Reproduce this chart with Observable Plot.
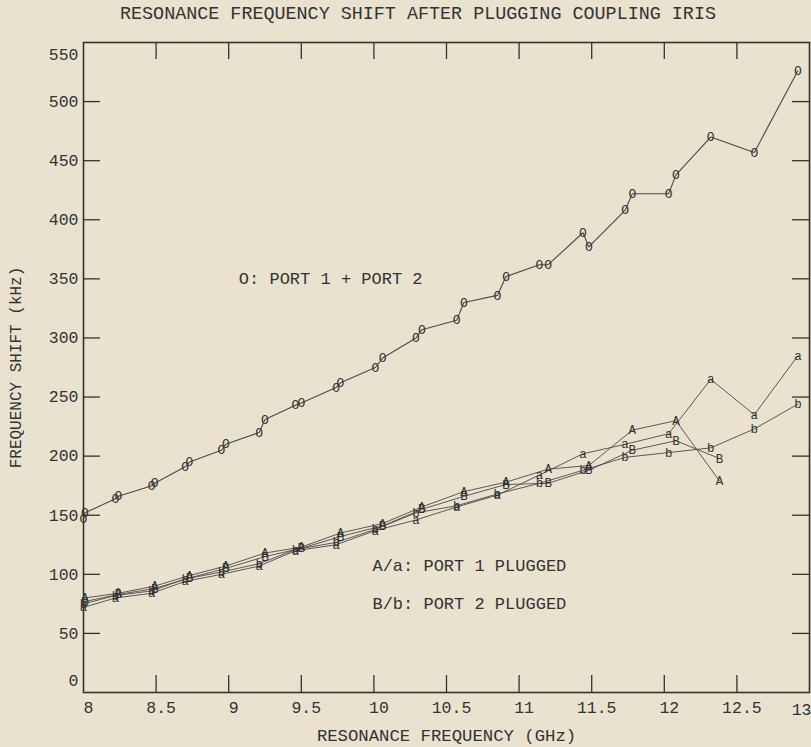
<!DOCTYPE html>
<html><head><meta charset="utf-8">
<script src="https://cdn.jsdelivr.net/npm/d3@7"></script>
<script src="https://cdn.jsdelivr.net/npm/@observablehq/plot@0.6"></script>
<style>
html,body{margin:0;padding:0;background:#e9e2cf;}
#title{height:30px;font-family:"Liberation Mono",monospace;font-size:18.4px;color:#333;position:relative;}
#title span{position:absolute;left:120px;top:4px;white-space:pre;}
</style></head><body>
<div id="title"><span>RESONANCE FREQUENCY SHIFT AFTER PLUGGING COUPLING IRIS</span></div>
<div id="chart"></div>
<script>
// Resonance frequencies (GHz): lower and upper member of each mode pair
const xLower = [8.00, 8.22, 8.47, 8.70, 8.95, 9.21, 9.46, 9.74, 10.01, 10.29, 10.57, 10.85, 11.14, 11.44, 11.73, 12.03, 12.32, 12.62, 12.92];
const xUpper = [8.01, 8.24, 8.49, 8.73, 8.98, 9.25, 9.50, 9.77, 10.06, 10.33, 10.62, 10.91, 11.20, 11.48, 11.78, 12.08, 12.38];
// O: port 1 + port 2 (kHz)
const oLower = [147, 164, 175, 191, 205, 220, 243, 258, 275, 300, 315, 336, 362, 389, 408, 422, 470, 457, 526];
const oUpper = [152, 166, 177, 195, 210, 231, 245, 262, 283, 307, 330, 352, 362, 377, 422, 438];
// a / b (lower member), A / B (upper member)
const aLower = [72, 80, 84, 94, 100, 107, 120, 125, 137, 146, 157, 167, 184, 202, 210, 219, 265, 235, 285];
const bLower = [75, 82, 86, 96, 102, 109, 121, 127, 138, 152, 158, 168, 177, 188, 199, 203, 207, 223, 244];
const AUpper = [80, 84, 90, 99, 107, 118, 123, 135, 143, 157, 170, 178, 189, 192, 222, 230, 179];
const BUpper = [77, 83, 88, 97, 105, 115, 122, 132, 141, 155, 166, 176, 177, 188, 205, 213, 198];
// Axis ticks
const xTickLabels = [8, 8.5, 9, 9.5, 10, 10.5, 11, 11.5, 12, 12.5];
const xEndLabel = [13];
const xInnerTicks = [8.5, 9, 9.5, 10, 10.5, 11, 11.5, 12, 12.5];
const yTickLabels = [50, 100, 150, 200, 250, 300, 350, 400, 450, 500];
const yBottomLabel = [0];
const yTopLabel = [550];
const yInnerTicks = [50, 100, 150, 200, 250, 300, 350, 400, 450, 500];
// Texts
const xTitle = "RESONANCE FREQUENCY (GHz)";
const yTitle = "FREQUENCY SHIFT (kHz)";
const noteText = ["O: PORT 1 + PORT 2", "A/a: PORT 1 PLUGGED", "B/b: PORT 2 PLUGGED"];
const noteX = [9.07, 9.99, 9.99];
const noteY = [350, 107, 75];

function series(xs, ys, sym) {
  return ys.map((y, i) => ({x: xs[i], y, sym}));
}
const oData = [...series(xLower, oLower, "O"), ...series(xUpper, oUpper, "O")].sort((p, q) => p.x - q.x);
const aData = series(xLower, aLower, "a");
const bData = series(xLower, bLower, "b");
const AData = series(xUpper, AUpper, "A");
const BData = series(xUpper, BUpper, "B");
const notes = noteText.map((t, i) => ({t, x: noteX[i], y: noteY[i]}));

const W = 811, H = 717, mT = 12, mB = 55, mL = 83, mR = 2;
const innerW = W - mL - mR, innerH = H - mT - mB, tick = 17;
const ink = "#333";
const lineInk = "#4a4a4a";

const lowerSets = [aData, bData, AData, BData];

const chart = Plot.plot({
  width: W, height: H,
  marginTop: mT, marginBottom: mB, marginLeft: mL, marginRight: mR,
  x: {domain: [8, 13], label: null},
  y: {domain: [0, 550], label: null},
  style: {fontFamily: "Liberation Mono, monospace", fontSize: "16.5px", color: ink, background: "transparent", overflow: "visible"},
  marks: [
    Plot.tickX(xInnerTicks, {x: d => d, insetTop: innerH - tick, stroke: ink, strokeWidth: 1.3}),
    Plot.tickX(xInnerTicks, {x: d => d, insetBottom: innerH - tick, stroke: ink, strokeWidth: 1.3}),
    Plot.tickY(yInnerTicks, {y: d => d, insetRight: innerW - tick, stroke: ink, strokeWidth: 1.3}),
    Plot.tickY(yInnerTicks, {y: d => d, insetLeft: innerW - tick, stroke: ink, strokeWidth: 1.3}),
    Plot.frame({stroke: ink, strokeWidth: 1.6}),
    Plot.axisX(xTickLabels, {tickSize: 0, tickPadding: 9, dx: 5, tickFormat: d => String(d), fill: ink}),
    Plot.text(xEndLabel, {x: d => d, frameAnchor: "bottom", textAnchor: "end", lineAnchor: "middle", dy: 17, dx: 2, text: d => String(d), fontSize: 16.5, fill: ink}),
    Plot.axisY(yTickLabels, {tickSize: 0, tickPadding: 5, tickFormat: d => String(d), fill: ink}),
    Plot.axisY(yBottomLabel, {tickSize: 0, tickPadding: 5, dy: -12, tickFormat: d => String(d), fill: ink}),
    Plot.axisY(yTopLabel, {tickSize: 0, tickPadding: 5, dy: 12, tickFormat: d => String(d), fill: ink}),
    Plot.text([xTitle], {frameAnchor: "bottom", dy: 48, fontSize: 17.3, fill: ink}),
    Plot.text([yTitle], {frameAnchor: "left", textAnchor: "middle", dx: -68, rotate: -90, fontSize: 16, fill: ink}),
    // series lines
    Plot.line(oData, {x: "x", y: "y", stroke: lineInk, strokeWidth: 1.1}),
    ...lowerSets.map(d => Plot.line(d, {x: "x", y: "y", stroke: lineInk, strokeWidth: 0.9})),
    // symbols
    Plot.text(oData, {x: "x", y: "y", text: "sym", fontSize: 13, fill: ink}),
    ...lowerSets.map(d => Plot.text(d, {x: "x", y: "y", text: "sym", fontSize: 12.5, fill: ink})),
    // annotations
    Plot.text(notes, {x: "x", y: "y", text: "t", textAnchor: "start", fontSize: 17, fill: ink})
  ]
});
document.getElementById("chart").appendChild(chart);
</script>
</body></html>
